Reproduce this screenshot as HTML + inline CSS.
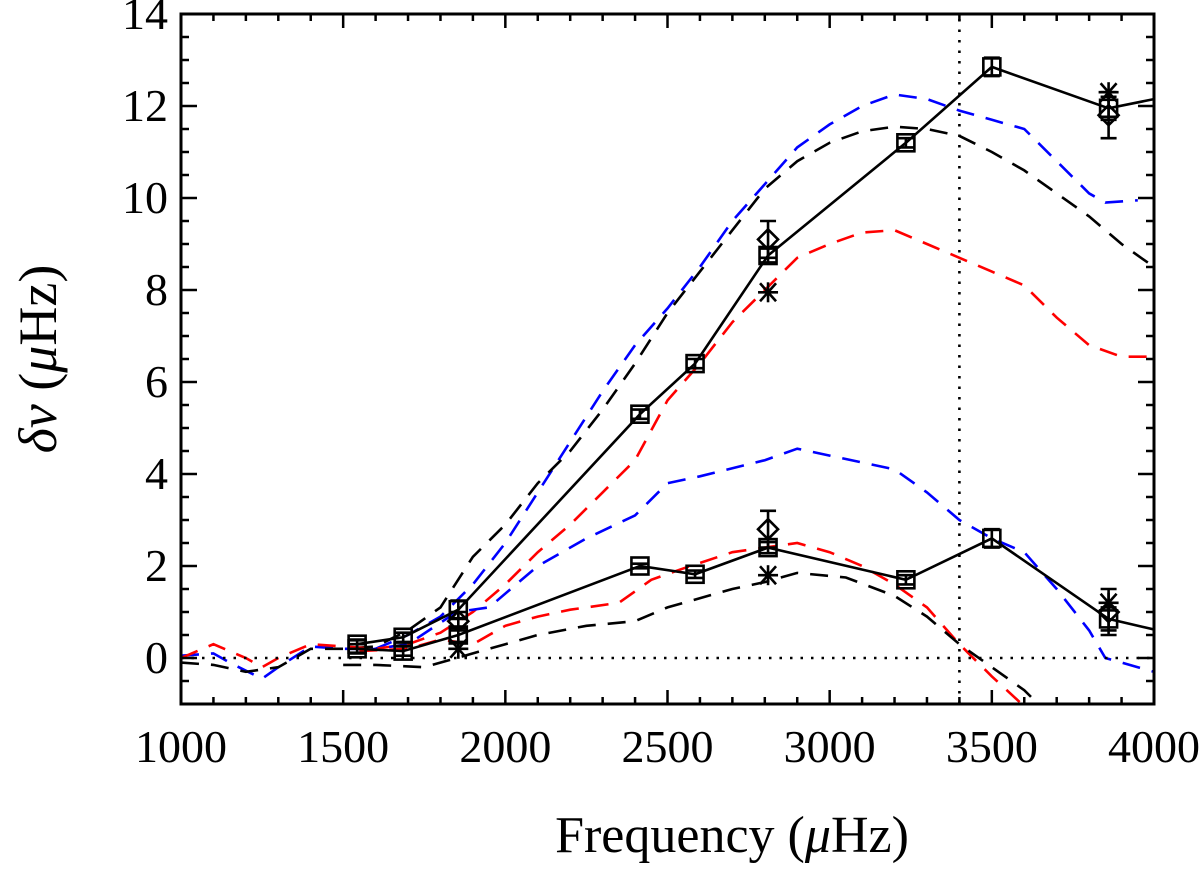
<!DOCTYPE html>
<html><head><meta charset="utf-8"><style>
body{margin:0;background:#fff}
svg text{font-family:"Liberation Serif",serif;fill:#000}
</style></head><body>
<svg id="chart" width="1200" height="877" xmlns="http://www.w3.org/2000/svg">
<defs><clipPath id="clip"><rect x="181" y="14" width="973" height="690"/></clipPath></defs>
<g id="marks" clip-path="url(#clip)"></g>
<g id="axes"></g>
<text x="732" y="852" font-size="52" text-anchor="middle">Frequency (<tspan font-style="italic">μ</tspan>Hz)</text>
<text transform="translate(56,359) rotate(-90)" font-size="54" text-anchor="middle"><tspan font-style="italic">δν</tspan> (<tspan font-style="italic">μ</tspan>Hz)</text>
</svg>
<script>
const xTicks=[1000,1500,2000,2500,3000,3500,4000];
const yTicks=[0,2,4,6,8,10,12,14];
const obsF=[1543,1685,1855,2415,2585,2810,3235,3500,3860,4000];
const upperV=[0.3,0.45,1.05,5.3,6.4,8.75,11.2,12.85,11.95,12.15];
const upperErr=[0.1,0.1,0.2,0.1,0.1,0.15,0.1,0.2,0.25,0];
const lowerV=[0.2,0.15,0.5,2.0,1.82,2.4,1.7,2.6,0.85,0.62];
const lowerErr=[0.1,0.1,0.15,0.05,0.08,0.12,0.1,0.2,0.25,0];
const diamondF=[1855,2810,2810,3860,3860];
const diamondV=[0.8,9.1,2.8,11.8,1.0];
const diamondErr=[0.2,0.4,0.4,0.5,0.5];
const starF=[1855,2810,2810,3860,3860];
const starV=[0.2,7.95,1.8,12.3,1.2];
const blueUpF=[1000,1100,1150,1250,1300,1400,1500,1600,1700,1800,1900,2000,2100,2200,2300,2400,2500,2600,2700,2800,2900,3000,3100,3200,3300,3400,3500,3600,3700,3800,3850,3950];
const blueUpV=[0.05,0.1,-0.1,-0.45,-0.2,0.25,0.2,0.2,0.5,0.9,1.6,2.5,3.6,4.7,5.8,6.8,7.6,8.5,9.5,10.3,11.1,11.6,12.0,12.25,12.15,11.9,11.7,11.5,10.8,10.1,9.9,9.95];
const blackUpF=[1000,1100,1200,1300,1400,1500,1600,1700,1800,1900,2000,2100,2200,2300,2400,2500,2600,2700,2800,2900,3000,3100,3200,3300,3400,3500,3600,3700,3800,3900,4000];
const blackUpV=[-0.1,-0.15,-0.3,-0.2,0.2,0.2,0.25,0.6,1.1,2.2,2.9,3.8,4.5,5.4,6.4,7.5,8.4,9.3,10.2,10.8,11.2,11.45,11.55,11.5,11.35,11.0,10.6,10.1,9.6,9.0,8.5];
const redUpF=[1000,1100,1200,1250,1300,1400,1500,1600,1700,1800,1900,2000,2100,2200,2300,2400,2500,2600,2700,2800,2900,3000,3100,3200,3300,3400,3500,3600,3700,3800,3900,4000];
const redUpV=[0,0.3,0,-0.2,0,0.3,0.25,0.2,0.3,0.55,1.0,1.6,2.3,2.9,3.6,4.3,5.6,6.4,7.3,8.0,8.7,9.0,9.25,9.3,9.0,8.7,8.4,8.1,7.4,6.8,6.55,6.55];
const blueLoF=[1550,1700,1850,1950,2100,2250,2400,2500,2600,2800,2900,3000,3200,3300,3400,3500,3600,3700,3800,3850,4000];
const blueLoV=[0.15,0.3,1.0,1.1,2.0,2.6,3.1,3.8,3.95,4.3,4.55,4.4,4.1,3.6,3.0,2.6,2.3,1.5,0.6,0,-0.3];
const redLoF=[1550,1700,1800,1900,2000,2100,2200,2350,2450,2550,2700,2900,3000,3100,3200,3300,3400,3500,3600];
const redLoV=[0.15,0.2,0.4,0.3,0.7,0.9,1.05,1.2,1.7,1.95,2.3,2.5,2.3,2.0,1.6,1.1,0.3,-0.4,-1.05];
const blackLoF=[1500,1600,1750,1850,2000,2100,2250,2400,2500,2700,2800,2900,3050,3200,3300,3400,3500,3600,3650];
const blackLoV=[-0.15,-0.15,-0.2,0,0.3,0.5,0.7,0.8,1.1,1.5,1.65,1.85,1.75,1.35,0.9,0.3,-0.2,-0.7,-1.05];
const X=f=>181+(f-1000)*973/3000;
const Y=v=>658-v*46;
const NS="http://www.w3.org/2000/svg";
const marks=document.getElementById('marks'),axes=document.getElementById('axes');
function mk(t,a,p){const e=document.createElementNS(NS,t);for(const k in a)e.setAttribute(k,a[k]);p.appendChild(e);return e;}
function line(F,V,color,dash,name){
  const e=mk('polyline',{points:F.map((f,i)=>X(f)+','+Y(V[i])).join(' '),fill:'none',stroke:color,'stroke-width':2.6,'stroke-dasharray':dash||''},marks);
  
  
}
line(blueUpF,blueUpV,'#00f','18 12','blue-dashed-upper');
line(blackUpF,blackUpV,'#000','18 12','black-dashed-upper');
line(redUpF,redUpV,'#f00','18 12','red-dashed-upper');
line(blueLoF,blueLoV,'#00f','18 12','blue-dashed-lower');
line(redLoF,redLoV,'#f00','18 12','red-dashed-lower');
line(blackLoF,blackLoV,'#000','18 12','black-dashed-lower');
line([1000,4000],[0,0],'#000','2.5 8','zero-line');
line([3400,3400],[-1,14],'#000','2.5 8','vertical-dotted-line');
line(obsF,upperV,'#000','','upper-solid-series');
line(obsF,lowerV,'#000','','lower-solid-series');
function errbar(f,v,e){
  const x=X(f);
  const g=mk('g',{stroke:'#000','stroke-width':2.6,fill:'none'},marks);
  
  
  mk('line',{x1:x,x2:x,y1:Y(v-e),y2:Y(v+e)},g);
  mk('line',{x1:x-8,x2:x+8,y1:Y(v-e),y2:Y(v-e)},g);
  mk('line',{x1:x-8,x2:x+8,y1:Y(v+e),y2:Y(v+e)},g);
}
function square(f,v,e){
  const x=X(f),y=Y(v);
  const r=mk('rect',{x:x-8.5,y:y-8.5,width:17,height:17,fill:'none',stroke:'#000','stroke-width':2.6},marks);
  
  
  if(e>0)errbar(f,v,e);
}
obsF.forEach((f,i)=>{if(f<4000){square(f,upperV[i],upperErr[i]);square(f,lowerV[i],lowerErr[i]);}});
diamondF.forEach((f,i)=>{
  const x=X(f),y=Y(diamondV[i]);
  const d=mk('polygon',{points:`${x},${y-10} ${x+10},${y} ${x},${y+10} ${x-10},${y}`,fill:'none',stroke:'#000','stroke-width':2.6},marks);
  
  
  errbar(f,diamondV[i],diamondErr[i]);
});
starF.forEach((f,i)=>{
  const x=X(f),y=Y(starV[i]);
  const g=mk('g',{stroke:'#000','stroke-width':2.6},marks);
  
  
  mk('line',{x1:x-10,x2:x+10,y1:y,y2:y},g);
  mk('line',{x1:x-8,x2:x+8,y1:y-9,y2:y+9},g);
  mk('line',{x1:x-8,x2:x+8,y1:y+9,y2:y-9},g);
  mk('line',{x1:x,x2:x,y1:y-10,y2:y+10},g);
});
const fr=mk('rect',{x:181,y:14,width:973,height:690,fill:'none',stroke:'#000','stroke-width':3},axes);


for(let f=1000;f<=4000;f+=100){
  const x=X(f),big=f%500===0,L=big?14:7;
  mk('line',{x1:x,x2:x,y1:704,y2:704-L,stroke:'#000','stroke-width':2.5},axes);
  mk('line',{x1:x,x2:x,y1:14,y2:14+L,stroke:'#000','stroke-width':2.5},axes);
}
xTicks.forEach(t=>{
  const e=mk('text',{x:X(t),y:762,'font-size':46,'text-anchor':'middle'},axes);
  e.textContent=t;
  
  
});
for(let v=-1;v<=14;v+=0.5){
  const y=Y(v),big=Number.isInteger(v)&&v%2===0,L=big?16:8;
  mk('line',{x1:181,x2:181+L,y1:y,y2:y,stroke:'#000','stroke-width':2.5},axes);
  mk('line',{x1:1154,x2:1154-L,y1:y,y2:y,stroke:'#000','stroke-width':2.5},axes);
}
yTicks.forEach(t=>{
  const e=mk('text',{x:168,y:Y(t)+15,'font-size':46,'text-anchor':'end'},axes);
  e.textContent=t;
  
  
});
</script>
</body></html>
